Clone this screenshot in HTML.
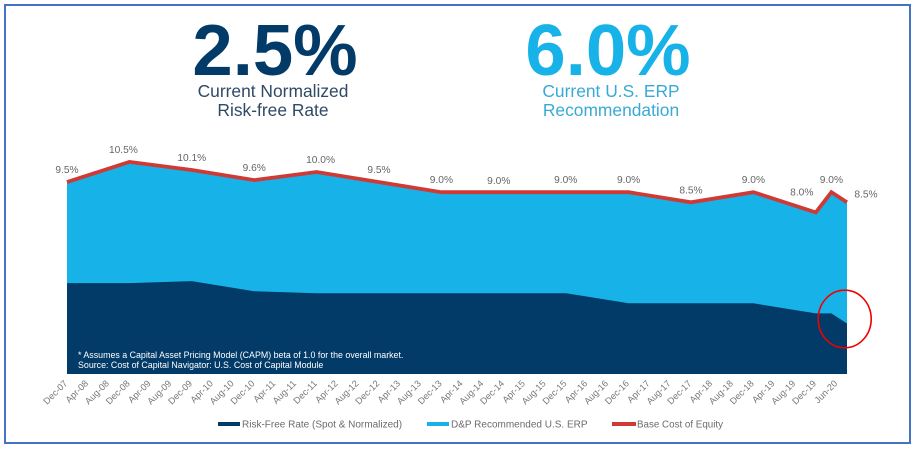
<!DOCTYPE html>
<html lang="en">
<head>
<meta charset="utf-8">
<title>Cost of Equity Chart</title>
<style>
  html, body { margin: 0; padding: 0; background: #fff; }
  body { width: 917px; height: 449px; overflow: hidden; }
  svg { display: block; font-family: "Liberation Sans", Arial, sans-serif; filter: blur(0.35px); }
</style>
</head>
<body>
<svg id="chart" xmlns="http://www.w3.org/2000/svg" width="917" height="449" viewBox="0 0 917 449">
  <rect x="5" y="5" width="905" height="438" fill="#fff" stroke="#4472c4" stroke-width="2"/>

  <text x="275" y="75" font-size="72.5" font-weight="700" fill="#023a68" text-anchor="middle">2.5%</text>
  <text x="273" y="97" font-size="17.4" fill="#2f4a64" text-anchor="middle">Current Normalized</text>
  <text x="273" y="116" font-size="17.4" fill="#2f4a64" text-anchor="middle">Risk-free Rate</text>

  <text x="608" y="75" font-size="72.5" font-weight="700" fill="#17b3e8" text-anchor="middle">6.0%</text>
  <text x="611" y="97" font-size="17.4" fill="#3aa9d6" text-anchor="middle">Current U.S. ERP</text>
  <text x="611" y="116" font-size="17.4" fill="#3aa9d6" text-anchor="middle">Recommendation</text>

  <g id="plot"></g>
  <g id="value-labels"></g>
  <g id="x-axis"></g>

  <text x="78" y="358" font-size="8.85" fill="#fff">* Assumes a Capital Asset Pricing Model (CAPM) beta of 1.0 for the overall market.</text>
  <text x="78" y="368" font-size="8.85" fill="#fff">Source: Cost of Capital Navigator: U.S. Cost of Capital Module</text>

  <g font-size="10" fill="#6b6b6b">
    <g>
      <rect x="218" y="422" width="22" height="4" fill="#023a68"/>
      <text x="242" y="427.5">Risk-Free Rate (Spot &amp; Normalized)</text>
    </g>
    <g>
      <rect x="427" y="422" width="22" height="4" fill="#17b3e8"/>
      <text x="451" y="427.5">D&amp;P Recommended U.S. ERP</text>
    </g>
    <g>
      <rect x="612" y="422" width="24" height="4" fill="#cf3a35"/>
      <text x="637" y="427.5" font-size="9.8">Base Cost of Equity</text>
    </g>
  </g>

  <ellipse cx="844.7" cy="319" rx="26.5" ry="28.8" fill="none" stroke="#f00000" stroke-width="1.6"/>
</svg>

<script>
const periods = ['Dec-07','Dec-08','Dec-09','Dec-10','Dec-11','Dec-12','Dec-13','Dec-14','Dec-15','Dec-16','Dec-17','Dec-18','Dec-19','Mar-20','Jun-20'];
const riskFree = [4.5,4.5,4.6,4.1,4.0,4.0,4.0,4.0,4.0,3.5,3.5,3.5,3.0,3.0,2.5];
const erp = [5.0,6.0,5.5,5.5,6.0,5.5,5.0,5.0,5.0,5.5,5.0,5.5,5.0,6.0,6.0];
const tickLabels = ['Dec-07','Apr-08','Aug-08','Dec-08','Apr-09','Aug-09','Dec-09','Apr-10','Aug-10','Dec-10','Apr-11','Aug-11','Dec-11','Apr-12','Aug-12','Dec-12','Apr-13','Aug-13','Dec-13','Apr-14','Aug-14','Dec-14','Apr-15','Aug-15','Dec-15','Apr-16','Aug-16','Dec-16','Apr-17','Aug-17','Dec-17','Apr-18','Aug-18','Dec-18','Apr-19','Aug-19','Dec-19','Jun-20'];

const NS = 'http://www.w3.org/2000/svg';
const monthNames = ['Jan','Feb','Mar','Apr','May','Jun','Jul','Aug','Sep','Oct','Nov','Dec'];

function monthIndex(label) {
  const parts = label.split('-');
  return (Number(parts[1]) - 7) * 12 + monthNames.indexOf(parts[0]) - 11;
}
function xScale(label) {
  return 67 + monthIndex(label) * 5.2;
}
function yScale(value) {
  return 374 - value * 20.2;
}
function make(tag, attrs) {
  const el = document.createElementNS(NS, tag);
  Object.keys(attrs).forEach(function (k) { el.setAttribute(k, attrs[k]); });
  return el;
}

function draw() {
  const plot = document.getElementById('plot');
  const labelsGroup = document.getElementById('value-labels');
  const axis = document.getElementById('x-axis');
  const totals = riskFree.map(function (v, i) { return Math.round((v + erp[i]) * 10) / 10; });

  const firstX = xScale(periods[0]);
  const lastX = xScale(periods[periods.length - 1]);
  const base = yScale(0);

  const totalPts = periods.map(function (p, i) { return xScale(p).toFixed(1) + ',' + yScale(totals[i]).toFixed(1); });
  const rfPts = periods.map(function (p, i) { return xScale(p).toFixed(1) + ',' + yScale(riskFree[i]).toFixed(1); });

  const erpArea = make('polygon', {
    points: firstX + ',' + base + ' ' + totalPts.join(' ') + ' ' + lastX + ',' + base,
    fill: '#17b3e8'
  });
  
  
  plot.appendChild(erpArea);

  const rfArea = make('polygon', {
    points: firstX + ',' + base + ' ' + rfPts.join(' ') + ' ' + lastX + ',' + base,
    fill: '#023a68'
  });
  
  
  plot.appendChild(rfArea);

  const line = make('polyline', {
    points: totalPts.join(' '),
    fill: 'none',
    stroke: '#cf3a35',
    'stroke-width': 3.8,
    'stroke-linejoin': 'miter'
  });
  
  
  plot.appendChild(line);

  const nudges = {
    'Dec-08': [-6, 0], 'Dec-11': [4, 0], 'Dec-14': [-5, 1], 'Dec-15': [-0.5, 0],
    'Dec-19': [-14, -8], 'Jun-20': [19, 4]
  };
  periods.forEach(function (p, i) {
    const n = nudges[p] || [0, 0];
    const t = make('text', {
      x: (xScale(p) + n[0]).toFixed(1),
      y: (yScale(totals[i]) - 9 + n[1]).toFixed(1),
      'font-size': 10.2,
      fill: '#666',
      'text-anchor': 'middle'
    });
    t.textContent = totals[i].toFixed(1) + '%';
    
    
    labelsGroup.appendChild(t);
  });

  tickLabels.forEach(function (label) {
    const shift = label === 'Jun-20' ? -10 : 0;
    const tx = xScale(label) + shift + 1;
    const t = make('text', {
      x: tx.toFixed(1),
      y: 384,
      'font-size': 9.2,
      fill: '#777',
      'text-anchor': 'end',
      transform: 'rotate(-45 ' + tx.toFixed(1) + ' 384)'
    });
    t.textContent = label;
    
    
    axis.appendChild(t);
  });
}
draw();
</script>
</body>
</html>
